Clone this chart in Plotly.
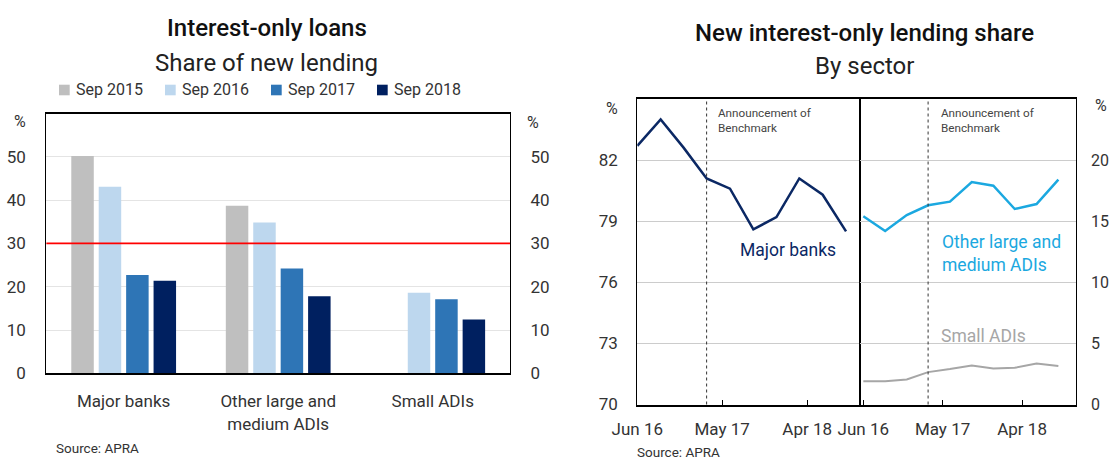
import plotly.graph_objects as go

# ---- Left panel: interest-only share of new lending, by lender group ----
categories = ["Major banks", "Other large and<br>medium ADIs", "Small ADIs"]
bar_periods = ["Sep 2015", "Sep 2016", "Sep 2017", "Sep 2018"]
share_sep2015 = [50.2, 38.7, None]
share_sep2016 = [43.1, 34.8, 18.6]
share_sep2017 = [22.7, 24.2, 17.1]
share_sep2018 = [21.4, 17.8, 12.4]
benchmark_level = 30
bar_ticks = [0, 10, 20, 30, 40, 50]

# ---- Right panel: new interest-only lending share by sector (quarterly) ----
quarters = ["2016-06-01", "2016-09-01", "2016-12-01", "2017-03-01", "2017-06-01",
            "2017-09-01", "2017-12-01", "2018-03-01", "2018-06-01", "2018-09-01"]
major_banks = [82.7, 84.0, 82.6, 81.1, 80.6, 78.6, 79.2, 81.1, 80.3, 78.5]
other_large_medium = [15.4, 14.2, 15.5, 16.3, 16.6, 18.2, 17.9, 16.0, 16.4, 18.4]
small_adis = [1.9, 1.9, 2.05, 2.65, 2.9, 3.2, 2.95, 3.0, 3.35, 3.15]
announcement_date = "2017-03-01"
date_tickvals = ["2016-06-01", "2017-05-01", "2018-04-01"]
date_ticktext = ["Jun 16", "May 17", "Apr 18"]
major_ticks = [70, 73, 76, 79, 82]
other_ticks = [0, 5, 10, 15, 20]

FONT = "Roboto"
TXT = "#333333"
bar_colors = ["#bfbfbf", "#bdd7ee", "#2e75b6", "#002060"]
c_major = "#0b2864"
c_other = "#1ba8e0"
c_small = "#a6a6a6"

W, H = 1112, 462


def px(x):
    return x / W


def py(y):
    return 1 - y / H


fig = go.Figure()

for name, vals, col in zip(bar_periods,
                           [share_sep2015, share_sep2016, share_sep2017, share_sep2018],
                           bar_colors):
    fig.add_trace(go.Bar(x=categories, y=vals, name=name, marker_color=col,
                         marker_line_width=0, xaxis="x", yaxis="y", showlegend=False))

# carrier so the mirrored right-hand percentage axis is drawn
fig.add_trace(go.Scatter(x=[categories[0]], y=[0], mode="markers", xaxis="x", yaxis="y2",
                         marker=dict(opacity=0), hoverinfo="skip", showlegend=False))

fig.add_trace(go.Scatter(x=quarters, y=major_banks, mode="lines", xaxis="x2", yaxis="y3",
                         line=dict(color=c_major, width=2.5), showlegend=False))
fig.add_trace(go.Scatter(x=quarters, y=other_large_medium, mode="lines", xaxis="x3", yaxis="y4",
                         line=dict(color=c_other, width=2.5), showlegend=False))
fig.add_trace(go.Scatter(x=quarters, y=small_adis, mode="lines", xaxis="x3", yaxis="y4",
                         line=dict(color=c_small, width=2), showlegend=False))

left_dom_x = [px(46.4), px(510)]
left_dom_y = [py(373.3), py(113.5)]
r1_dom_x = [px(637.3), px(860)]
r2_dom_x = [px(860), px(1075.7)]
r_dom_y = [py(404.5), py(99)]

tickfont = dict(family=FONT, size=17, color=TXT)
tickfont_r = dict(family=FONT, size=16, color=TXT)
clear = "rgba(0,0,0,0)"

fig.update_layout(
    width=W, height=H, margin=dict(l=0, r=0, t=0, b=0, autoexpand=False),
    paper_bgcolor="white", plot_bgcolor="white",
    font=dict(family=FONT, color=TXT),
    barmode="group", bargap=0.29, bargroupgap=0.18,
    showlegend=False,
    xaxis=dict(domain=left_dom_x, anchor="y", type="category",
               showline=True, linecolor="black", linewidth=1.5, mirror=True,
               ticks="outside", ticklen=12, tickcolor=clear, tickfont=tickfont,
               showgrid=False),
    yaxis=dict(domain=left_dom_y, anchor="x", range=[0, 60], tickvals=bar_ticks,
               showline=True, linecolor="black", linewidth=1.3, mirror=True,
               showgrid=True, gridcolor="#e4e4e4", gridwidth=1, zeroline=False,
               ticks="outside", ticklen=16, tickcolor=clear, tickfont=tickfont),
    yaxis2=dict(overlaying="y", anchor="x", side="right", range=[0, 60], tickvals=bar_ticks,
                showgrid=False, zeroline=False, showline=False,
                ticks="outside", ticklen=16, tickcolor=clear, tickfont=tickfont),
    xaxis2=dict(domain=r1_dom_x, anchor="y3", type="date",
                range=["2016-06-01", "2018-10-26"],
                tickvals=date_tickvals, ticktext=date_ticktext,
                ticks="inside", ticklen=5, tickwidth=1.3, tickcolor="black",
                showline=True, linecolor="black", linewidth=2, mirror=True,
                showgrid=False, tickfont=tickfont, ticklabelstandoff=8),
    yaxis3=dict(domain=r_dom_y, anchor="x2", range=[70, 85], tickvals=major_ticks,
                showline=True, linecolor="black", linewidth=1.3, mirror=True,
                showgrid=True, gridcolor="#cccccc", gridwidth=1, zeroline=False,
                ticks="outside", ticklen=15, tickcolor=clear, tickfont=tickfont),
    xaxis3=dict(domain=r2_dom_x, anchor="y4", type="date",
                range=["2016-05-18", "2018-11-13"],
                tickvals=date_tickvals, ticktext=date_ticktext,
                ticks="inside", ticklen=5, tickwidth=1.3, tickcolor="black",
                showline=True, linecolor="black", linewidth=2, mirror=True,
                showgrid=False, tickfont=tickfont, ticklabelstandoff=8),
    yaxis4=dict(domain=r_dom_y, anchor="x3", side="right", range=[0, 25], tickvals=other_ticks,
                showline=True, linecolor="black", linewidth=1.3, mirror=True,
                showgrid=True, gridcolor="#cccccc", gridwidth=1, zeroline=False,
                ticks="outside", ticklen=11, tickcolor=clear, tickfont=tickfont_r),
)

# 30 per cent benchmark across the bar panel
fig.add_shape(type="line", xref="x domain", yref="y", x0=0, x1=1,
              y0=benchmark_level, y1=benchmark_level,
              line=dict(color="#ff0000", width=1.6), layer="above")

# announcement markers in both line panels
for xr, yr in [("x2", "y3 domain"), ("x3", "y4 domain")]:
    fig.add_shape(type="line", xref=xr, yref=yr, x0=announcement_date, x1=announcement_date,
                  y0=0, y1=1, line=dict(color="#333333", width=1, dash="dot"), layer="above")


def note(text, x, y, size, color=TXT, xanchor="center", weight=None, align="center"):
    f = dict(family=FONT, size=size, color=color)
    if weight:
        f["weight"] = weight
    fig.add_annotation(text=text, xref="paper", yref="paper", x=x, y=y, xanchor=xanchor,
                       yanchor="middle", showarrow=False, font=f, align=align)


# legend for the bar panel: swatch plus label per period
for i, (name, col) in enumerate(zip(bar_periods, bar_colors)):
    x0 = 59 + i * 106
    fig.add_shape(type="rect", xref="paper", yref="paper",
                  x0=px(x0), x1=px(x0 + 10.7), y0=py(95.3), y1=py(84.7),
                  fillcolor=col, line_width=0)
    note(name, px(x0 + 15), py(90), 16, xanchor="left")

# titles
note("Interest-only loans", px(267), py(28), 24, "#111111", weight=500)
note("Share of new lending", px(266), py(63), 24, "#222222")
note("New interest-only lending share", px(864), py(32.5), 24, "#111111", weight=500)
note("By sector", px(864.6), py(66), 24, "#222222")

# unit labels
note("%", px(20), py(121.7), 16)
note("%", px(533), py(122), 16)
note("%", px(611.5), py(108.3), 16)
note("%", px(1101), py(105), 16)

# series labels
note("Major banks", px(787.5), py(250), 17.5, c_major)
note("Other large and<br>medium ADIs", px(940), py(253.3), 17.5, c_other,
     xanchor="left", align="left")
note("Small ADIs", px(939), py(335.7), 17.5, c_small, xanchor="left")

# announcement text
for x0 in (716, 939):
    note("Announcement of<br>Benchmark", px(x0), py(120.3), 11.7, "#444444",
         xanchor="left", align="left")

# sources
note("Source: APRA", px(54), py(448), 13.5, xanchor="left")
note("Source: APRA", px(635), py(452), 13.5, xanchor="left")

fig.write_html("out.html")
